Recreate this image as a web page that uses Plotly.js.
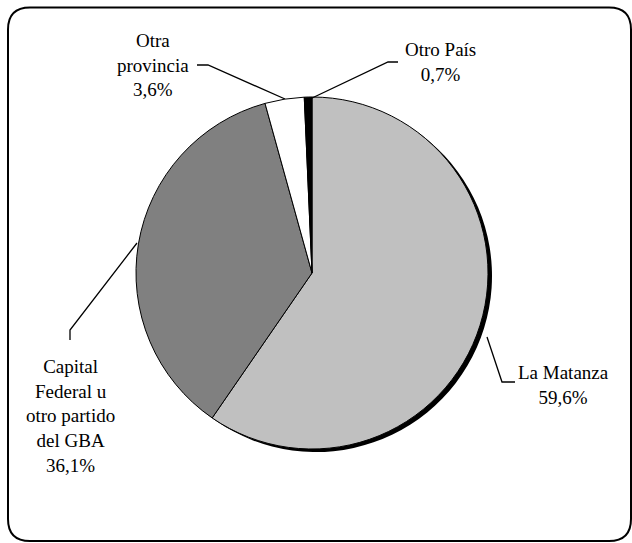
<!DOCTYPE html>
<html>
<head>
<meta charset="utf-8">
<script src="https://cdn.plot.ly/plotly-3.0.1.min.js"></script>
<style>
html,body{margin:0;padding:0;background:#fff;}
#chart{width:632px;height:543px;}
</style>
</head>
<body>
<div id="chart"></div>
<script>
// ---- data ----
var categories = ['La Matanza', 'Capital Federal u otro partido del GBA', 'Otra provincia', 'Otro País'];
var wrappedLabels = ['La Matanza', 'Capital<br>Federal u<br>otro partido<br>del GBA', 'Otra<br>provincia', 'Otro País'];
var percentages = [59.6, 36.1, 3.6, 0.7];
var sliceColors = ['#C0C0C0', '#808080', '#FFFFFF', '#000000'];

// ---- layout helpers (pixel geometry) ----
var W = 632, H = 543;
var cx = 312, cy = 273, R = 176;
function dom(cxp, cyp, r) {
  return { x: [(cxp - r) / W, (cxp + r) / W], y: [(H - (cyp + r)) / H, (H - (cyp - r)) / H] };
}
function fmt(v) { return v.toFixed(1).replace('.', ',') + '%'; }

var shadow = {
  type: 'pie', values: percentages, labels: categories, sort: false,
  direction: 'clockwise', rotation: 0,
  marker: { colors: percentages.map(function () { return '#000000'; }), line: { width: 0 } },
  textinfo: 'none', hoverinfo: 'skip', showlegend: false,
  domain: dom(cx + 4, cy + 3, R)
};
var pie = {
  type: 'pie', values: percentages, labels: categories, sort: false,
  direction: 'clockwise', rotation: 0,
  marker: { colors: sliceColors, line: { color: '#000000', width: 1 } },
  textinfo: 'none', hoverinfo: 'label+percent', showlegend: false,
  domain: dom(cx, cy, R)
};

// label blocks (centre positions in px)
var labelPos = [[563, 385], [70, 416], [153, 65], [440, 62]];
var annotations = categories.map(function (c, i) {
  return {
    xref: 'x', yref: 'y', x: labelPos[i][0], y: labelPos[i][1],
    text: wrappedLabels[i] + '<br>' + fmt(percentages[i]),
    showarrow: false, align: 'center', xanchor: 'center', yanchor: 'middle',
    font: { family: 'Liberation Serif', size: 19, color: '#000' }
  };
});

var leaders = [
  'M487,337 L502,382 L515,382',
  'M137,243 L70,330 L70,340',
  'M197,65 L208,65 L285,99',
  'M398,62 L388,62 L310,99'
];
var shapes = leaders.map(function (p) {
  return { type: 'path', xref: 'x', yref: 'y', path: p, line: { color: '#000', width: 1.3 } };
});
// rounded frame
var x0 = 8, y0 = 7.5, x1 = 631, y1 = 541, rr = 22;
shapes.push({
  type: 'path', xref: 'x', yref: 'y', layer: 'above',
  path: 'M' + (x0 + rr) + ',' + y0 + ' L' + (x1 - rr) + ',' + y0 + ' Q' + x1 + ',' + y0 + ' ' + x1 + ',' + (y0 + rr) +
        ' L' + x1 + ',' + (y1 - rr) + ' Q' + x1 + ',' + y1 + ' ' + (x1 - rr) + ',' + y1 +
        ' L' + (x0 + rr) + ',' + y1 + ' Q' + x0 + ',' + y1 + ' ' + x0 + ',' + (y1 - rr) +
        ' L' + x0 + ',' + (y0 + rr) + ' Q' + x0 + ',' + y0 + ' ' + (x0 + rr) + ',' + y0 + ' Z',
  line: { color: '#000', width: 2 }
});

var layout = {
  width: W, height: H,
  margin: { l: 0, r: 0, t: 0, b: 0, pad: 0 },
  paper_bgcolor: '#fff', plot_bgcolor: 'rgba(0,0,0,0)',
  showlegend: false,
  font: { family: 'Liberation Serif' },
  xaxis: { range: [0, W], visible: false, fixedrange: true },
  yaxis: { range: [H, 0], visible: false, fixedrange: true },
  annotations: annotations,
  shapes: shapes
};

Plotly.newPlot('chart', [shadow, pie], layout, { displayModeBar: false, staticPlot: true });
</script>
</body>
</html>
